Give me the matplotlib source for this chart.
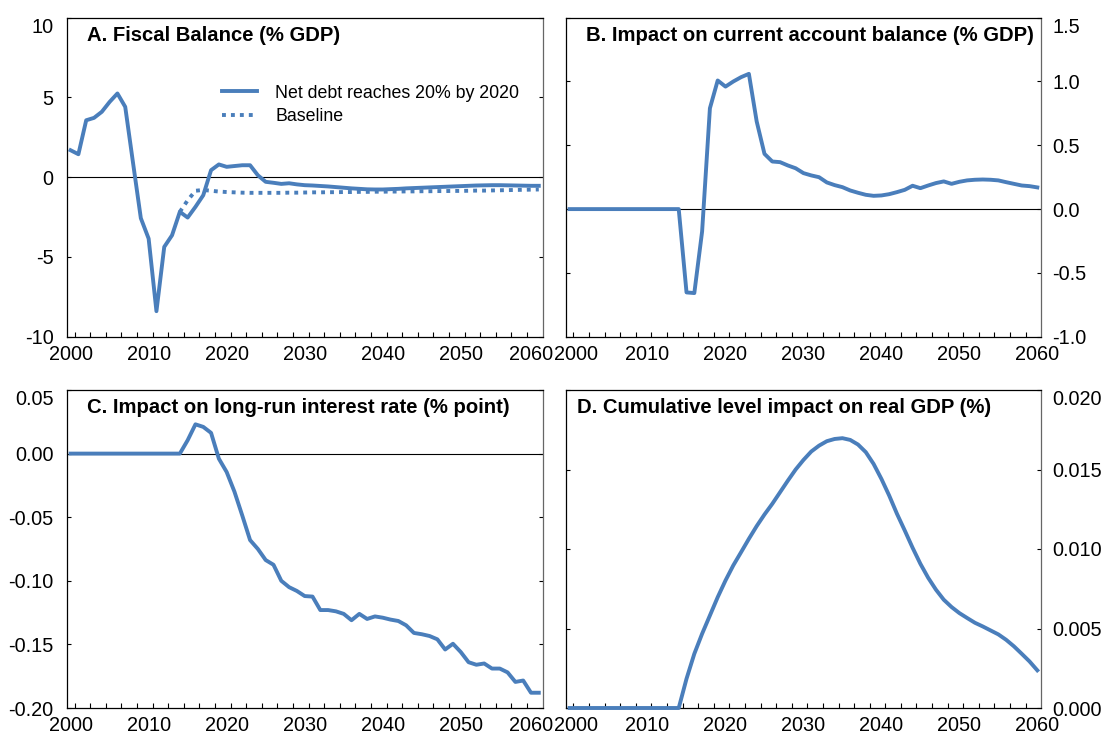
"""Four-panel scenario chart: fiscal balance and its impacts"""
import matplotlib.pyplot as plt
from matplotlib.ticker import FixedLocator, FormatStrFormatter
from matplotlib.transforms import ScaledTranslation

plt.rcParams['font.family'] = ['Liberation Sans', 'DejaVu Sans']

years = list(range(2000, 2061))
zeros = [0.0] * 15  # 2000-2014, before the scenario starts

# A. fiscal balance, net debt scenario (2000-2060)
fiscal = [1.69, 1.44, 3.57, 3.72, 4.1, 4.72, 5.25, 4.41, 0.9, -2.57,
          -3.85, -8.4, -4.37, -3.64, -2.17, -2.53, -1.86, -1.13, 0.44, 0.8,
          0.65, 0.7, 0.75, 0.75, 0.12, -0.29, -0.35, -0.42, -0.38, -0.45,
          -0.5, -0.52, -0.55, -0.58, -0.62, -0.66, -0.7, -0.73, -0.76, -0.77,
          -0.77, -0.75, -0.73, -0.7, -0.68, -0.66, -0.64, -0.62, -0.6, -0.58,
          -0.56, -0.54, -0.52, -0.51, -0.5, -0.5, -0.51, -0.52, -0.53, -0.54,
          -0.54]
# A. baseline (2014-2060)
base_years = list(range(2014, 2061))
baseline = [-2.17, -1.45, -0.85, -0.8, -0.85, -0.9, -0.93, -0.95, -0.97, -0.98,
            -0.98, -0.98, -0.98, -0.98, -0.97, -0.97, -0.96,
            -0.95, -0.95, -0.94, -0.94, -0.93, -0.93, -0.92, -0.92, -0.91, -0.91,
            -0.9, -0.9, -0.89, -0.89, -0.88, -0.88, -0.87, -0.87, -0.86, -0.86,
            -0.85, -0.84, -0.84, -0.83, -0.82, -0.81, -0.8, -0.79, -0.78, -0.77]

# B. current account impact
current_acct = zeros + [
    -0.653, -0.658, -0.175, 0.79, 1.008, 0.96, 1.0, 1.034, 1.06, 0.687,
    0.433, 0.373, 0.368, 0.342, 0.32, 0.282, 0.264, 0.25, 0.209, 0.188,
    0.172, 0.146, 0.128, 0.112, 0.104, 0.107, 0.117, 0.133, 0.151, 0.183,
    0.164, 0.185, 0.204, 0.217, 0.198, 0.214, 0.225, 0.23, 0.232, 0.23,
    0.225, 0.211, 0.198, 0.185, 0.18, 0.17]

# C. long-run interest rate impact
interest = zeros + [
    0.0105, 0.023, 0.021, 0.0163, -0.004, -0.0145, -0.030, -0.0487, -0.068, -0.075,
    -0.0837, -0.0874, -0.1, -0.105, -0.108, -0.112, -0.1124, -0.123, -0.123, -0.124,
    -0.126, -0.131, -0.126, -0.130, -0.128, -0.129, -0.1305, -0.1316, -0.135, -0.141,
    -0.142, -0.1434, -0.146, -0.154, -0.1495, -0.156, -0.164, -0.166, -0.165, -0.169,
    -0.169, -0.172, -0.1795, -0.1784, -0.188, -0.188]

# D. cumulative real GDP level impact
gdp = zeros + [
    0.00184, 0.00341, 0.00467, 0.00582, 0.00697, 0.00802, 0.00897, 0.0098,
    0.01064, 0.01144, 0.01217, 0.01284, 0.01357, 0.0143, 0.015, 0.0156,
    0.01613, 0.0165, 0.01678, 0.01692, 0.01697, 0.01686, 0.01657, 0.01609,
    0.01535, 0.01441, 0.01336, 0.01221, 0.01116, 0.01008, 0.00907, 0.00819,
    0.00744, 0.00681, 0.00635, 0.00597, 0.00566, 0.00536, 0.00513, 0.00488,
    0.00463, 0.00429, 0.00388, 0.00341, 0.00293, 0.00237]

BLUE = '#4a7ebb'
LW = 2.8


def style_axis(ax, yticks, fmt, right_labels, title, title_x=0.042):
    ax.set_xlim(1999.5, 2060.5)
    ax.set_ylim(yticks[0], yticks[-1])
    ax.xaxis.set_major_locator(FixedLocator(list(range(2000, 2061, 10))))
    ax.xaxis.set_minor_locator(FixedLocator([y + 0.5 for y in range(2000, 2059, 2)]))
    ax.tick_params(axis='x', which='major', length=0, pad=6, labelsize=14.3)
    ax.tick_params(axis='x', which='minor', direction='in', length=3.6, width=0.8)
    ax.set_yticks(yticks)
    ax.yaxis.set_major_formatter(FormatStrFormatter(fmt))
    ax.tick_params(axis='y', direction='in', length=3, width=0.8,
                   left=True, right=True, labelsize=14.3,
                   labelleft=not right_labels, labelright=right_labels,
                   pad=8 if right_labels else 9.5)
    top = ax.yaxis.get_major_ticks()[-1]
    top.label1.set_va('top')
    top.label2.set_va('top')
    for s in ax.spines.values():
        s.set_linewidth(0.9)
        s.set_color('black')
    ax.spines['right'].set_color('#666666')
    ax.text(title_x, 0.944, title, transform=ax.transAxes, fontsize=14.6,
            fontweight='bold', va='center', ha='left')


def nudge_xlabel(ax, idx, dx_px):
    # keep neighbouring panels' end labels from running into each other
    lab = ax.xaxis.get_major_ticks()[idx].label1
    lab.set_transform(lab.get_transform() +
                      ScaledTranslation(dx_px / 100, 0, ax.figure.dpi_scale_trans))


fig = plt.figure(figsize=(11.06, 7.36), dpi=100)
W, H = 1106, 736
axA = fig.add_axes([66.7 / W, 1 - 336.7 / H, 476 / W, 319 / H])
axB = fig.add_axes([565.7 / W, 1 - 336.7 / H, 475.5 / W, 319 / H])
axC = fig.add_axes([66.7 / W, 1 - 708 / H, 476 / W, 318 / H])
axD = fig.add_axes([565.7 / W, 1 - 708 / H, 475.5 / W, 318 / H])

# A
axA.axhline(0, color='black', lw=0.8, zorder=1)
axA.plot(base_years, baseline, color=BLUE, lw=LW, ls=(0, (1, 1.3)),
         dash_capstyle='butt', label='Baseline', zorder=2)
axA.plot(years, fiscal, color=BLUE, lw=LW, label='Net debt reaches 20% by 2020', zorder=3)
style_axis(axA, [-10, -5, 0, 5, 10], '%d', False, 'A. Fiscal Balance (% GDP)')
h, l = axA.get_legend_handles_labels()
axA.legend(h[::-1], l[::-1], loc='upper left', bbox_to_anchor=(0.3256, 0.79),
           frameon=False, fontsize=12.8, handlelength=2.0, handletextpad=1.0,
           borderpad=0, borderaxespad=0, labelspacing=0.35)

# B
axB.axhline(0, color='black', lw=0.8, zorder=1)
axB.plot(years, current_acct, color=BLUE, lw=LW, zorder=3)
style_axis(axB, [-1.0, -0.5, 0.0, 0.5, 1.0, 1.5], '%.1f', True,
           'B. Impact on current account balance (% GDP)')

# C
axC.axhline(0, color='black', lw=0.8, zorder=1)
axC.plot(years, interest, color=BLUE, lw=LW, zorder=3)
style_axis(axC, [-0.20, -0.15, -0.10, -0.05, 0.00, 0.05], '%.2f', False,
           'C. Impact on long-run interest rate (% point)')

# D
axD.plot(years, gdp, color=BLUE, lw=LW, zorder=3, clip_on=False)
style_axis(axD, [0.000, 0.005, 0.010, 0.015, 0.020], '%.3f', True,
           'D. Cumulative level impact on real GDP (%)', title_x=0.024)

for ax in (axA, axC):
    nudge_xlabel(ax, -1, -8)
for ax in (axB, axD):
    nudge_xlabel(ax, 0, 6)

fig.savefig('out.png', dpi=100)
plt.close(fig)
